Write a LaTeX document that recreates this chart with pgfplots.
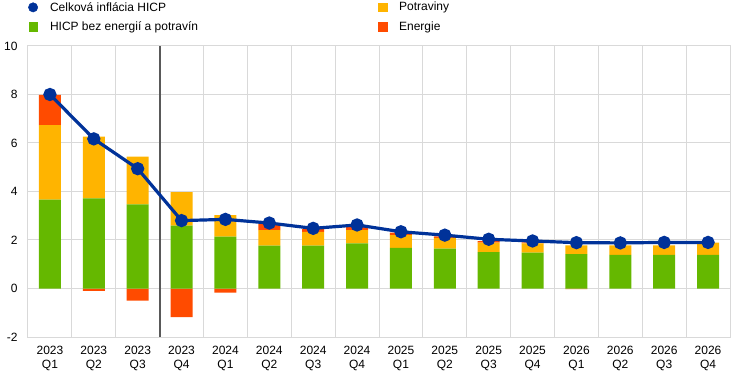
\documentclass[border=0pt]{standalone}
\usepackage{pgfplots}
\pgfplotsset{compat=1.18}
\usepackage{pgfplotstable}
\usepackage{fontspec}
\setmainfont{Liberation Sans}
\definecolor{ecbblue}{HTML}{003299}
\definecolor{ecbgreen}{HTML}{65B800}
\definecolor{ecbyellow}{HTML}{FFB400}
\definecolor{ecbred}{HTML}{FF4B00}
\definecolor{gridgray}{HTML}{D9D9D9}
\definecolor{sepgray}{HTML}{595959}

\pgfplotstableread{
x core food energy hicp
0 3.66 3.08 1.24 8.00
1 3.72 2.54 -0.10 6.17
2 3.47 1.97 -0.50 4.94
3 2.59 1.38 -1.18 2.80
4 2.14 0.89 -0.17 2.85
5 1.77 0.64 0.27 2.70
6 1.77 0.57 0.12 2.48
7 1.86 0.55 0.16 2.62
8 1.68 0.52 0.10 2.34
9 1.64 0.45 0.06 2.20
10 1.50 0.39 0.06 2.03
11 1.48 0.38 0.04 1.96
12 1.42 0.36 -0.03 1.89
13 1.39 0.39 0.00 1.88
14 1.39 0.39 0.00 1.90
15 1.39 0.50 0.00 1.90
}\data

\pgfplotsset{
  commonax/.style={
    at={(0,0)}, anchor=south west,
    width=702pt, height=291pt, scale only axis,
    xmin=-0.5, xmax=15.5, ymin=-2, ymax=10,
  }
}

\begin{document}
\begin{tikzpicture}[font=\fontsize{12}{14}\selectfont]
\useasboundingbox (-28pt,-40pt) rectangle (715pt,337pt);
\begin{axis}[
  commonax,
  ybar stacked, bar width=0.5,
  xtick={0,...,15},
  xticklabels={{2023\\Q1},{2023\\Q2},{2023\\Q3},{2023\\Q4},{2024\\Q1},{2024\\Q2},{2024\\Q3},{2024\\Q4},{2025\\Q1},{2025\\Q2},{2025\\Q3},{2025\\Q4},{2026\\Q1},{2026\\Q2},{2026\\Q3},{2026\\Q4}},
  xticklabel style={align=center, font=\fontsize{12}{14}\selectfont, yshift=-6pt},
  yticklabel style={font=\fontsize{12}{14}\selectfont, xshift=-7pt},
  minor xtick={0.5,1.5,...,14.5},
  ytick={-2,0,2,4,6,8,10},
  yticklabels={-2,0,2,4,6,8,10},
  xmajorgrids=false, xminorgrids=true, ymajorgrids=true,
  grid style={gridgray, line width=1pt},
  minor grid style={gridgray, line width=1pt},
  axis line style={gridgray, line width=1pt},
  major tick length=0pt, minor tick length=0pt,
  tick style={draw=none},
  legend columns=2,
  legend cell align=left,
  legend style={at={(0,1)}, anchor=north west, xshift=-3pt, yshift=48pt,
    draw=none, fill=none, row sep=5pt, font=\fontsize{12}{14}\selectfont,
    /tikz/every odd column/.append style={column sep=10pt},
    /tikz/every even column/.append style={column sep=178pt}},
]
\addlegendimage{legend image code/.code={\fill[ecbblue] (0.2cm,0) circle (4.7pt);}}
\addlegendentry{Celková inflácia HICP}
\addlegendimage{legend image code/.code={\fill[ecbyellow] (0.2cm-4.3pt,-4.3pt) rectangle ++(8.6pt,8.6pt);}}
\addlegendentry{Potraviny}
\addlegendimage{legend image code/.code={\fill[ecbgreen] (0.2cm-4.3pt,-4.3pt) rectangle ++(8.6pt,8.6pt);}}
\addlegendentry{HICP bez energií a potravín}
\addlegendimage{legend image code/.code={\fill[ecbred] (0.2cm-4.3pt,-4.3pt) rectangle ++(8.6pt,8.6pt);}}
\addlegendentry{Energie}

\addplot[fill=ecbgreen, draw=none, forget plot] table[x=x, y=core]{\data};
\addplot[fill=ecbyellow, draw=none, forget plot] table[x=x, y=food]{\data};
\addplot[fill=ecbred, draw=none, forget plot] table[x=x, y=energy]{\data};
\draw[sepgray, line width=1.8pt] (axis cs:2.5,-2) -- (axis cs:2.5,10);
\end{axis}
\begin{axis}[commonax, hide axis]
\addplot[ecbblue, line width=3.2pt, mark=*, mark size=5pt, mark options={fill=ecbblue}] table[x=x, y=hicp]{\data};
\end{axis}
\end{tikzpicture}
\end{document}
